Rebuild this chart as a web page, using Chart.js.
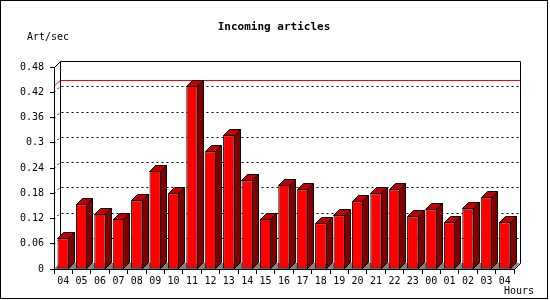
<!DOCTYPE html>
<html>
<head>
<meta charset="utf-8">
<title>Incoming articles</title>
<script src="https://cdn.jsdelivr.net/npm/chart.js@4/dist/chart.umd.min.js"></script>
<style>
  body { margin: 0; background: #fff; }
  canvas { display: block; }
</style>
</head>
<body>
<canvas id="chart" width="550" height="300"></canvas>
<script>
// --- donnees ---
const hours = ['04', '05', '06', '07', '08', '09', '10', '11', '12', '13', '14', '15', '16',
               '17', '18', '19', '20', '21', '22', '23', '00', '01', '02', '03', '04'];
const artPerSec = [0.073, 0.154, 0.131, 0.120, 0.163, 0.233, 0.180, 0.435, 0.280, 0.318, 0.211, 0.120, 0.200,
                   0.189, 0.109, 0.128, 0.161, 0.180, 0.189, 0.125, 0.142, 0.111, 0.144, 0.170, 0.111];
const yTicks = [0, 0.06, 0.12, 0.18, 0.24, 0.30, 0.36, 0.42, 0.48];
const yTickLabels = ['0', '0.06', '0.12', '0.18', '0.24', '0.3', '0.36', '0.42', '0.48'];

const FONT = "'DejaVu Sans Mono', monospace";
const DEPTH = 6;

// Fond 3D : mur du fond, sol, grille pointillee, ligne du max
const backPlane = {
    id: 'backPlane',
    beforeDatasetsDraw(chart) {
        const ctx = chart.ctx;
        const a = chart.chartArea;
        const y = chart.scales.y;
        const d = DEPTH;
        ctx.save();
        ctx.lineWidth = 1;

        // sol
        ctx.fillStyle = '#808080';
        ctx.beginPath();
        ctx.moveTo(a.left, a.bottom);
        ctx.lineTo(a.right, a.bottom);
        ctx.lineTo(a.right + d, a.bottom - d);
        ctx.lineTo(a.left + d, a.bottom - d);
        ctx.closePath();
        ctx.fill();

        // grille pointillee
        ctx.strokeStyle = '#000';
        ctx.setLineDash([2, 3]);
        yTicks.slice(1, -1).forEach(v => {
            const py = Math.round(y.getPixelForValue(v)) + 0.5;
            ctx.beginPath();
            ctx.moveTo(a.left, py);
            ctx.lineTo(a.left + d, py - d);
            ctx.lineTo(a.right + d, py - d);
            ctx.stroke();
        });
        ctx.setLineDash([]);

        // ligne du maximum
        const maxY = Math.round(y.getPixelForValue(Math.max(...artPerSec))) + 0.5;
        ctx.strokeStyle = '#ff0000';
        ctx.beginPath();
        ctx.moveTo(a.left, maxY);
        ctx.lineTo(a.left + d, maxY - d);
        ctx.lineTo(a.right + d, maxY - d);
        ctx.stroke();

        // contour du mur et du sol
        const t = Math.round(a.top) + 0.5, b = Math.round(a.bottom) + 0.5;
        const l = Math.round(a.left) + 0.5, r = Math.round(a.right) + 0.5;
        ctx.strokeStyle = '#000';
        ctx.beginPath();
        ctx.moveTo(l, t);
        ctx.lineTo(l + d, t - d);
        ctx.lineTo(r + d, t - d);
        ctx.lineTo(r + d, b - d);
        ctx.lineTo(r, b);
        ctx.moveTo(l + d, t - d);
        ctx.lineTo(l + d, b - d);
        ctx.stroke();
        ctx.restore();
    },
    afterDatasetsDraw(chart) {
        // faces du dessus et de cote des barres
        const ctx = chart.ctx;
        const d = DEPTH;
        ctx.save();
        ctx.lineWidth = 1;
        ctx.strokeStyle = '#000';
        chart.getDatasetMeta(0).data.forEach(bar => {
            const p = bar.getProps(['x', 'y', 'base', 'width'], true);
            const l = Math.round(p.x - p.width / 2) + 0.5;
            const r = Math.round(p.x + p.width / 2) - 0.5;
            const top = Math.round(p.y) + 0.5;
            const base = Math.round(p.base) - 0.5;
            ctx.fillStyle = '#c00000';
            ctx.beginPath();
            ctx.moveTo(l, top);
            ctx.lineTo(r, top);
            ctx.lineTo(r + d, top - d);
            ctx.lineTo(l + d, top - d);
            ctx.closePath();
            ctx.fill();
            ctx.stroke();
            ctx.fillStyle = '#800000';
            ctx.beginPath();
            ctx.moveTo(r, top);
            ctx.lineTo(r + d, top - d);
            ctx.lineTo(r + d, base - d);
            ctx.lineTo(r, base);
            ctx.closePath();
            ctx.fill();
            ctx.stroke();
        });
        ctx.restore();
    },
    afterDraw(chart) {
        const ctx = chart.ctx;
        ctx.save();
        ctx.fillStyle = '#000';
        ctx.textBaseline = 'middle';
        ctx.font = 'bold 11px ' + FONT;
        ctx.textAlign = 'center';
        ctx.fillText('Incoming articles', 274, 27);
        ctx.font = '10px ' + FONT;
        ctx.fillText('Art/sec', 48, 37);
        ctx.fillText('Hours', 519, 291);
        ctx.strokeStyle = '#000';
        ctx.strokeRect(0.5, 0.5, 547, 298);
        ctx.restore();
    }
};

new Chart(document.getElementById('chart'), {
    type: 'bar',
    data: {
        labels: hours,
        datasets: [{
            data: artPerSec,
            backgroundColor: '#ff0000',
            borderColor: '#000',
            borderWidth: 1,
            borderSkipped: false,
            barPercentage: 1,
            categoryPercentage: 0.62
        }]
    },
    options: {
        responsive: false,
        animation: false,
        devicePixelRatio: 1,
        layout: { padding: { left: 0, top: 67, right: 36, bottom: 0 } },
        plugins: { legend: { display: false }, tooltip: { enabled: false } },
        scales: {
            x: {
                offset: true,
                afterFit: s => { s.height = 31; },
                grid: { offset: true, drawOnChartArea: false, tickLength: 5, color: '#000' },
                border: { color: '#000' },
                ticks: { color: '#000', padding: 1, maxRotation: 0, autoSkip: false, font: { family: FONT, size: 10 } }
            },
            y: {
                min: 0,
                max: 0.48,
                afterFit: s => { s.width = 54; },
                afterBuildTicks: s => { s.ticks = yTicks.map(v => ({ value: v })); },
                grid: { drawOnChartArea: false, tickLength: 4, color: '#000' },
                border: { color: '#000' },
                ticks: {
                    color: '#000',
                    padding: 6,
                    font: { family: FONT, size: 10 },
                    callback: (v, i) => yTickLabels[i]
                }
            }
        }
    },
    plugins: [backPlane]
});
</script>
</body>
</html>
